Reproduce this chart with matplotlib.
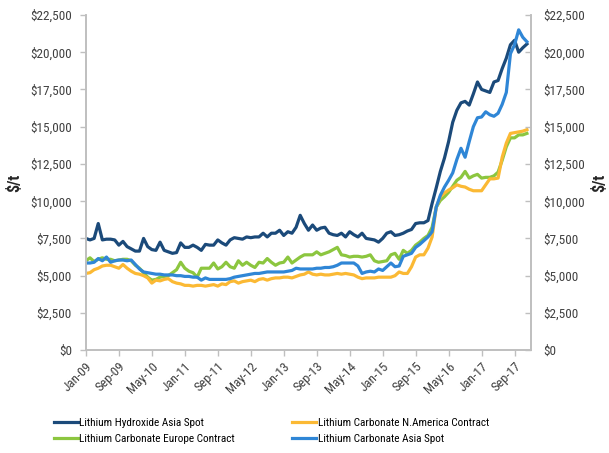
import matplotlib
matplotlib.use("Agg")
import matplotlib.pyplot as plt
import matplotlib.ticker as mticker
from matplotlib import font_manager
import numpy as np

# monthly prices, Jan-09 .. Dec-17 ($/t)
hydroxide_asia = [7500, 7400, 7500, 8500, 7400, 7450, 7450, 7400, 7050, 7300,
                  6950, 6800, 6650, 6650, 7500, 6950, 6750, 6700, 7250, 6700,
                  6600, 6500, 6550, 7200, 6900, 6900, 7050, 6900, 6700, 7100,
                  7050, 7050, 7400, 7200, 7050, 7400, 7550, 7500, 7450, 7600,
                  7550, 7600, 7600, 7850, 7600, 7850, 7850, 8050, 7700, 7950,
                  7850, 8250, 9050, 8500, 8050, 8400, 8050, 8200, 8250, 7850,
                  7750, 7700, 7850, 7600, 7950, 7750, 7600, 7850, 7500, 7450,
                  7400, 7250, 7500, 7850, 7950, 7700, 7750, 7850, 8000, 8100,
                  8500, 8550, 8550, 8700, 9850, 10900, 12000, 12900, 14000, 15300,
                  16100, 16600, 16700, 16450, 17200, 18000, 17500, 17400, 17300, 18000,
                  18100, 18900, 19600, 20500, 20800, 20000, 20300, 20550]

carbonate_namerica = [5150, 5200, 5400, 5500, 5650, 5700, 5700, 5600, 5500, 5750,
                      5500, 5300, 5150, 5100, 5000, 4850, 4500, 4700, 4650, 4750,
                      4800, 4600, 4500, 4450, 4350, 4350, 4300, 4350, 4350, 4300,
                      4350, 4400, 4300, 4450, 4400, 4600, 4650, 4500, 4600, 4650,
                      4700, 4600, 4750, 4800, 4700, 4800, 4850, 4850, 4900, 4900,
                      4850, 4950, 5050, 5100, 5250, 5100, 5050, 5100, 5050, 5050,
                      5100, 5150, 5100, 5150, 5100, 5050, 4900, 4800, 4850, 4850,
                      4850, 4900, 4900, 4900, 4900, 5000, 5250, 5150, 5150, 5600,
                      6250, 6400, 6400, 6850, 7600, 9600, 10300, 10550, 10750, 10900,
                      11100, 11000, 10950, 10800, 10700, 10700, 10700, 11100, 11500, 11500,
                      11550, 12950, 13900, 14550, 14600, 14650, 14700, 14800]

carbonate_europe = [6000, 6200, 5950, 6100, 6200, 6100, 6100, 6000, 6050, 6100,
                    6100, 6000, 5700, 5500, 5200, 4900, 4700, 4750, 4900, 4950,
                    5000, 5200, 5400, 5900, 5500, 5300, 5200, 4900, 5500, 5500,
                    5500, 5850, 5450, 5600, 5900, 5600, 5500, 6000, 5700, 5900,
                    5700, 5550, 5900, 5850, 6150, 5900, 5700, 5850, 5900, 6250,
                    5850, 6050, 6250, 6400, 6400, 6400, 6600, 6400, 6500, 6600,
                    6750, 6900, 6400, 6350, 6250, 6300, 6300, 6250, 6300, 6400,
                    6000, 5900, 5950, 6000, 6400, 6500, 6100, 6700, 6500, 6700,
                    7050, 7250, 7500, 7700, 8250, 9600, 10050, 10300, 10600, 11000,
                    11400, 11600, 12000, 11550, 11700, 11800, 11550, 11600, 11600, 11700,
                    11950, 12750, 13650, 14250, 14250, 14450, 14450, 14550]

carbonate_asia = [5850, 5850, 5900, 6150, 6000, 6250, 5900, 6000, 6050, 6050,
                  6000, 6050, 5750, 5450, 5250, 5200, 5150, 5100, 5100, 5050,
                  5050, 5050, 5000, 5000, 4950, 4950, 4900, 4900, 4700, 4850,
                  4750, 4750, 4750, 4750, 4750, 4800, 4900, 4950, 5000, 5050,
                  5100, 5150, 5150, 5200, 5250, 5250, 5250, 5250, 5250, 5300,
                  5350, 5500, 5450, 5450, 5450, 5450, 5500, 5500, 5550, 5550,
                  5600, 5700, 5850, 5850, 5850, 5850, 5650, 5150, 5250, 5300,
                  5250, 5450, 5350, 5600, 5850, 5600, 5650, 6300, 6400, 6500,
                  6900, 7100, 7350, 7600, 7950, 9600, 10400, 10950, 11400, 11900,
                  12800, 13550, 12950, 14000, 15000, 15600, 15650, 16000, 15800, 15700,
                  15900, 16500, 17300, 19900, 20500, 21500, 21000, 20700]

tick_labels = ['Jan-09', 'Sep-09', 'May-10', 'Jan-11', 'Sep-11', 'May-12', 'Jan-13',
               'Sep-13', 'May-14', 'Jan-15', 'Sep-15', 'May-16', 'Jan-17', 'Sep-17']

# pick a narrow font if there is one
fams = {f.name for f in font_manager.fontManager.ttflist}
if 'Liberation Sans Narrow' in fams:
    fam, tick_fs, leg_fs = 'Liberation Sans Narrow', 10, 8.6
elif 'Roboto Condensed' in fams:
    fam, tick_fs, leg_fs = 'Roboto Condensed', 9.5, 8.1
else:
    fam, tick_fs, leg_fs = 'Liberation Sans', 8.4, 7.4
plt.rcParams['font.family'] = [fam, 'DejaVu Sans']

months = np.arange(len(hydroxide_asia))

grey = '#bfbfbf'
text_col = '#404040'

fig = plt.figure(figsize=(6.09, 4.53), dpi=100)
ax = fig.add_axes([0.141, 0.227, 0.731, 0.740])

l1, = ax.plot(months, hydroxide_asia, color='#1b4a7a', lw=2.3, label='Lithium Hydroxide Asia Spot')
l2, = ax.plot(months, carbonate_europe, color='#8cc63f', lw=2.3, label='Lithium Carbonate Europe Contract')
l3, = ax.plot(months, carbonate_namerica, color='#fbb934', lw=2.3, label='Lithium Carbonate N.America Contract')
l4, = ax.plot(months, carbonate_asia, color='#2f86d6', lw=2.3, label='Lithium Carbonate Asia Spot')

ax.set_xlim(0, 108)
ax.set_ylim(0, 22500)
ax.set_yticks(np.arange(0, 22501, 2500))
fmt = mticker.FuncFormatter(lambda v, p: '${:,.0f}'.format(v))
ax.yaxis.set_major_formatter(fmt)
ax.set_xticks(np.arange(0, 108, 8))
ax.set_xticklabels(tick_labels, rotation=45, ha='right', va='top', rotation_mode='anchor')

ax2 = ax.twinx()
ax2.set_ylim(ax.get_ylim())
ax2.set_yticks(np.arange(0, 22501, 2500))
ax2.yaxis.set_major_formatter(fmt)

for a in (ax, ax2):
    a.spines['top'].set_visible(False)
    for s in ('left', 'right', 'bottom'):
        a.spines[s].set_color(grey)
        a.spines[s].set_linewidth(1.2)
    a.tick_params(colors=grey, labelcolor=text_col, labelsize=tick_fs, length=4, width=1)
ax.tick_params(axis='y', pad=6)
ax2.tick_params(axis='y', pad=9, direction='in')
ax.tick_params(axis='x', pad=3)

ax.set_ylabel('$/t', fontsize=11.5, fontweight='bold', color='#262626', labelpad=6)
ax2.set_ylabel('$/t', fontsize=11.5, fontweight='bold', color='#262626', rotation=90, labelpad=4)

leg_kw = dict(loc='upper left', frameon=False, fontsize=leg_fs, handlelength=2.2,
              handletextpad=0.1, labelspacing=0.55, borderpad=0, borderaxespad=0)
fig.legend(handles=[l1, l2], bbox_to_anchor=(0.088, 0.078), **leg_kw)
fig.legend(handles=[l3, l4], bbox_to_anchor=(0.479, 0.078), **leg_kw)

fig.savefig('out.png', dpi=100)
